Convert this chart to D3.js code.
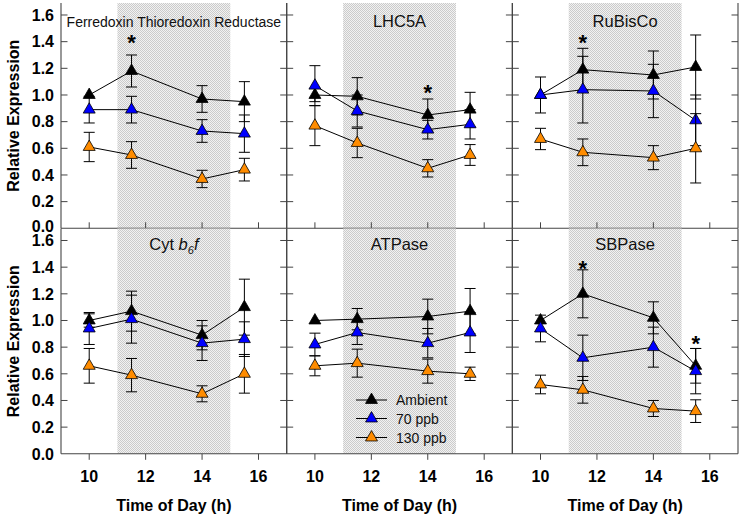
<!DOCTYPE html>
<html>
<head>
<meta charset="utf-8">
<script src="https://cdn.jsdelivr.net/npm/d3@7"></script>
<style>
  html, body { margin: 0; padding: 0; background: #fff; }
  svg { display: block; font-family: "Liberation Sans", Arial, sans-serif; }
</style>
</head>
<body>
<svg id="chart" width="740" height="519"></svg>
<script>
// ---------------- DATA ----------------
const timePoints = [10, 11.5, 14, 15.5];
const xTicks = [10, 12, 14, 16];
const yTicks = [0, 0.2, 0.4, 0.6, 0.8, 1.0, 1.2, 1.4, 1.6];
const panelTitles = ["Ferredoxin Thioredoxin Reductase", "LHC5A", "RuBisCo", "Cyt b6f", "ATPase", "SBPase"];
const seriesNames = ["Ambient", "70 ppb", "130 ppb"];
const shadedPeriod = [11, 15];

const ambientMean = [
  [1.00, 1.18, 0.97, 0.95],
  [1.00, 0.99, 0.85, 0.89],
  [1.00, 1.19, 1.15, 1.21],
  [1.00, 1.07, 0.89, 1.10],
  [1.00, 1.01, 1.03, 1.07],
  [1.00, 1.20, 1.02, 0.66]
];
const ambientErr = [
  [0.00, 0.12, 0.10, 0.15],
  [0.05, 0.14, 0.12, 0.13],
  [0.00, 0.16, 0.18, 0.24],
  [0.05, 0.15, 0.11, 0.21],
  [0.00, 0.08, 0.13, 0.17],
  [0.00, 0.18, 0.12, 0.13]
];
const ppb70Mean = [
  [0.89, 0.89, 0.73, 0.71],
  [1.07, 0.88, 0.74, 0.78],
  [1.00, 1.04, 1.03, 0.81],
  [0.94, 1.01, 0.83, 0.86],
  [0.82, 0.91, 0.83, 0.91],
  [0.94, 0.72, 0.80, 0.62]
];
const ppb70Err = [
  [0.10, 0.10, 0.085, 0.14],
  [0.15, 0.12, 0.07, 0.11],
  [0.135, 0.25, 0.20, 0.19],
  [0.12, 0.18, 0.13, 0.13],
  [0.085, 0.09, 0.11, 0.15],
  [0.10, 0.17, 0.15, 0.17]
];
const ppb130Mean = [
  [0.61, 0.55, 0.37, 0.44],
  [0.77, 0.64, 0.45, 0.55],
  [0.67, 0.57, 0.53, 0.60],
  [0.66, 0.59, 0.45, 0.60],
  [0.66, 0.68, 0.62, 0.60],
  [0.52, 0.48, 0.34, 0.32]
];
const ppb130Err = [
  [0.11, 0.10, 0.065, 0.085],
  [0.15, 0.11, 0.065, 0.078],
  [0.08, 0.10, 0.09, 0.26],
  [0.13, 0.125, 0.06, 0.145],
  [0.075, 0.105, 0.09, 0.05],
  [0.07, 0.10, 0.06, 0.085]
];
// significance markers: panel index, time, vertical position (expression units)
const starPanel = [0, 1, 2, 5, 5];
const starTime  = [11.5, 14, 11.5, 11.5, 15.5];
const starLevel = [1.43, 1.05, 1.43, 1.42, 0.86];

// ---------------- LAYOUT ----------------
const colors = ["#000000", "#0000ff", "#ff8c00"];
const means = [ambientMean, ppb70Mean, ppb130Mean];
const errs = [ambientErr, ppb70Err, ppb130Err];

const colX = [61, 286.7, 512.3];
const panelW = 225.7;
const rowY = [3, 228.5];
const panelH = 225.3;
const yMax = 1.69;
const axisColor = "#444";

const svg = d3.select("#chart");
const defs = svg.append("defs");
const pat = defs.append("pattern").attr("id", "dots").attr("patternUnits", "userSpaceOnUse")
  .attr("width", 2).attr("height", 2);
pat.append("rect").attr("width", 2).attr("height", 2).attr("fill", "#f2f2f2");
pat.append("rect").attr("x", 0).attr("y", 0).attr("width", 1).attr("height", 1).attr("fill", "#cbcbcb");
pat.append("rect").attr("x", 1).attr("y", 1).attr("width", 1).attr("height", 1).attr("fill", "#cbcbcb");

const tri = d3.symbol().type(d3.symbolTriangle).size(62);

panelTitles.forEach((title, p) => {
  const col = p % 3, row = Math.floor(p / 3);
  const x = d3.scaleLinear().domain([9, 17]).range([colX[col], colX[col] + panelW]);
  const y = d3.scaleLinear().domain([0, yMax]).range([rowY[row] + panelH, rowY[row]]);
  const g = svg.append("g");
  const y0 = y(0), yTop = y(yMax);

  // shading
  g.append("rect")
    .attr("x", x(shadedPeriod[0])).attr("y", yTop)
    .attr("width", x(shadedPeriod[1]) - x(shadedPeriod[0]))
    .attr("height", y0 - yTop)
    .attr("fill", "url(#dots)");

  // borders: left, right, bottom
  g.append("line").attr("x1", x(9)).attr("x2", x(9)).attr("y1", yTop).attr("y2", y0)
    .attr("stroke", axisColor).attr("stroke-width", 1.1);
  g.append("line").attr("x1", x(17)).attr("x2", x(17)).attr("y1", yTop).attr("y2", y0)
    .attr("stroke", axisColor).attr("stroke-width", 1.1);
  g.append("line").attr("x1", x(9)).attr("x2", x(17)).attr("y1", y0).attr("y2", y0)
    .attr("stroke", axisColor).attr("stroke-width", 1.1);

  // y ticks inward on both sides
  yTicks.filter(v => v > 0).forEach(v => {
    g.append("line").attr("x1", x(9)).attr("x2", x(9) + 6.5).attr("y1", y(v)).attr("y2", y(v))
      .attr("stroke", axisColor).attr("stroke-width", 1);
    g.append("line").attr("x1", x(17) - 6.5).attr("x2", x(17)).attr("y1", y(v)).attr("y2", y(v))
      .attr("stroke", axisColor).attr("stroke-width", 1);
  });
  // x ticks: inward on top row, outward on bottom row
  xTicks.forEach(t => {
    const dy = row === 0 ? -6 : 6;
    g.append("line").attr("x1", x(t)).attr("x2", x(t)).attr("y1", y0).attr("y2", y0 + dy)
      .attr("stroke", axisColor).attr("stroke-width", 1);
  });

  // y tick labels on left column
  if (col === 0) {
    yTicks.forEach(v => {
      const nudge = (row === 0 && v === 0) ? -2.5 : 0;
      g.append("text").attr("x", 54).attr("y", y(v) + 5.8 + nudge)
        .attr("text-anchor", "end").attr("font-size", 16).attr("font-weight", "bold")
        .text(d3.format(".1f")(v));
    });
    g.append("text")
      .attr("transform", `translate(19,${(y0 + yTop) / 2}) rotate(-90)`)
      .attr("text-anchor", "middle").attr("font-size", 16).attr("font-weight", "bold")
      .text("Relative Expression");
  }
  // x tick labels and title on bottom row
  if (row === 1) {
    xTicks.forEach(t => {
      g.append("text").attr("x", x(t)).attr("y", 482)
        .attr("text-anchor", "middle").attr("font-size", 16).attr("font-weight", "bold")
        .text(t);
    });
    g.append("text").attr("x", x(13)).attr("y", 511)
      .attr("text-anchor", "middle").attr("font-size", 16).attr("font-weight", "bold")
      .text("Time of Day (h)");
  }

  // panel title
  const ty = row === 0 ? 27 : 250;
  const tt = g.append("text").attr("x", x(13)).attr("y", ty).attr("text-anchor", "middle")
    .attr("font-size", title.length > 20 ? 14 : 16.5).attr("fill", "#111");
  const m = title.match(/^Cyt b(\d)f$/);
  if (m) {
    tt.append("tspan").text("Cyt ");
    tt.append("tspan").attr("font-style", "italic").text("b");
    tt.append("tspan").attr("font-style", "italic").attr("font-size", 11).attr("dy", 4).text(m[1]);
    tt.append("tspan").attr("font-style", "italic").attr("dy", -4).text("f");
  } else {
    tt.text(title);
  }

  // series
  [0, 1, 2].forEach(s => {
    const pts = timePoints.map((t, i) => ({ t, v: means[s][p][i], e: errs[s][p][i] }));
    const sg = g.append("g");
    sg.append("path").datum(pts)
      .attr("d", d3.line().x(d => x(d.t)).y(d => y(d.v)))
      .attr("fill", "none").attr("stroke", "#000").attr("stroke-width", 1);
    pts.forEach(d => {
      if (d.e > 0) {
        sg.append("line").attr("x1", x(d.t)).attr("x2", x(d.t))
          .attr("y1", y(d.v - d.e)).attr("y2", y(d.v + d.e)).attr("stroke", "#000").attr("stroke-width", 1);
        [d.v - d.e, d.v + d.e].forEach(v => {
          sg.append("line").attr("x1", x(d.t) - 5.5).attr("x2", x(d.t) + 5.5)
            .attr("y1", y(v)).attr("y2", y(v)).attr("stroke", "#000").attr("stroke-width", 1);
        });
      }
    });
    sg.selectAll("path.mk").data(pts).enter().append("path").attr("class", "mk")
      .attr("d", tri).attr("transform", d => `translate(${x(d.t)},${y(d.v)})`)
      .attr("fill", colors[s]).attr("stroke", "#000").attr("stroke-width", 0.8);
  });

  // significance stars
  starPanel.forEach((sp, k) => {
    if (sp !== p) return;
    g.append("text").attr("x", x(starTime[k])).attr("y", y(starLevel[k]) + 12)
      .attr("text-anchor", "middle").attr("font-size", 22).attr("font-weight", "bold")
      .text("*");
  });

  // legend in ATPase panel
  if (p === 4) {
    const ly = [400, 418.5, 437.5];
    seriesNames.forEach((name, s) => {
      g.append("line").attr("x1", 356).attr("x2", 387).attr("y1", ly[s]).attr("y2", ly[s])
        .attr("stroke", "#000").attr("stroke-width", 1);
      g.append("path").attr("d", tri).attr("transform", `translate(371.5,${ly[s]})`)
        .attr("fill", colors[s]).attr("stroke", "#000").attr("stroke-width", 0.8);
      g.append("text").attr("x", 396).attr("y", ly[s] + 5).attr("font-size", 14).attr("fill", "#111")
        .text(name);
    });
  }
});
</script>
</body>
</html>
